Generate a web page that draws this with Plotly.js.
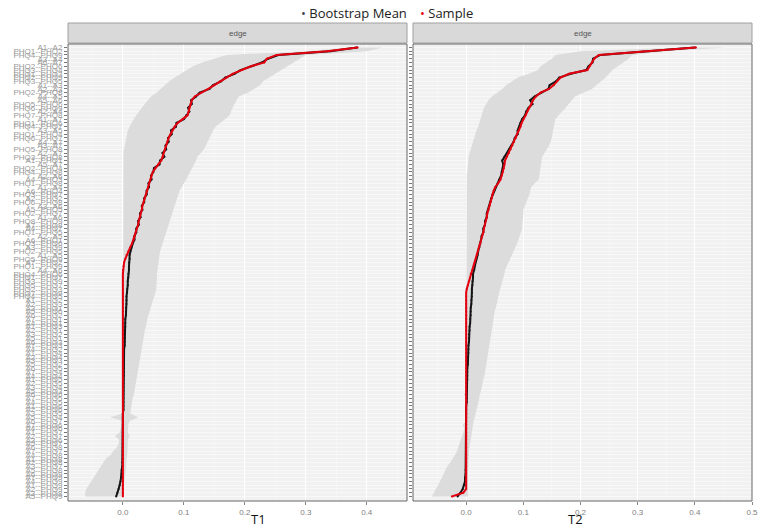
<!DOCTYPE html>
<html>
<head>
<meta charset="utf-8">
<script src="https://cdn.plot.ly/plotly-3.0.1.min.js"></script>
<style>
  body { margin: 0; background: #fff; }
  #plot { width: 764px; height: 528px; }
</style>
</head>
<body>
<div id="plot"></div>
<script>
// Edge labels, strongest first (top of the panels)
const edges = [
  "A1--A2","PHQ1--PHQ2","PHQ4--PHQ9","A3--A4","A6--A7","PHQ2--PHQ6","PHQ3--PHQ4","PHQ1--PHQ3","PHQ2--PHQ9","PHQ3--PHQ5",
  "A1--A3","A2--A3","PHQ2--PHQ8","A4--A5","A5--A6","PHQ5--PHQ6","PHQ6--PHQ9","A2--A4","PHQ7--PHQ8","A1--A7",
  "PHQ1--PHQ6","PHQ4--PHQ7","A3--A5","PHQ1--PHQ4","PHQ6--PHQ7","A4--A7","A3--A7","PHQ5--PHQ8","A2--A7","PHQ3--PHQ8",
  "A1--PHQ1","A5--A7","PHQ2--PHQ4","PHQ4--PHQ8","A2--A6","A4--PHQ3","PHQ1--PHQ8","A1--A4","A6--PHQ4","PHQ3--PHQ7",
  "A2--PHQ2","PHQ6--PHQ8","A3--A6","A5--PHQ5","PHQ2--PHQ7","A1--A6","PHQ8--PHQ9","A7--PHQ8","A4--PHQ7","PHQ1--PHQ5",
  "A2--A5","A6--PHQ1","PHQ3--PHQ6","A3--PHQ9","PHQ2--PHQ5","A1--A5","PHQ5--PHQ9","A7--PHQ2","PHQ1--PHQ9","A4--A6",
  "PHQ4--PHQ6","PHQ1--PHQ7","PHQ3--PHQ9","PHQ5--PHQ7","PHQ2--PHQ3","PHQ7--PHQ9","PHQ4--PHQ5","A1--PHQ2","A2--PHQ3","A3--PHQ1",
  "A5--PHQ6","A6--PHQ2","A7--PHQ1","A4--PHQ1","A1--PHQ3","A2--PHQ1","A3--PHQ2","A5--PHQ1","A6--PHQ3","A7--PHQ3",
  "A4--PHQ2","A1--PHQ4","A2--PHQ4","A3--PHQ3","A5--PHQ2","A6--PHQ5","A7--PHQ4","A4--PHQ4","A1--PHQ5","A2--PHQ5",
  "A3--PHQ4","A5--PHQ3","A6--PHQ6","A7--PHQ5","A4--PHQ5","A1--PHQ6","A2--PHQ6","A3--PHQ5","A5--PHQ4","A6--PHQ7",
  "A7--PHQ6","A4--PHQ6","A1--PHQ7","A2--PHQ7","A3--PHQ6","A5--PHQ7","A6--PHQ8","A7--PHQ7","A4--PHQ8","A1--PHQ8",
  "A2--PHQ8","A3--PHQ7","A5--PHQ8","A6--PHQ9","A7--PHQ9","A4--PHQ9","A1--PHQ9","A2--PHQ9","A3--PHQ8","A5--PHQ9"
];

// T1 panel
const t1Sample = [
  .385,.335,.252,.236,.232,.21,.195,.18,.17,.159,
  .15,.14,.128,.118,.113,.111,.109,.108,.106,.098,
  .09,.085,.081,.078,.075,.073,.071,.069,.067,.066,
  .063,.058,.053,.049,.047,.045,.043,.041,.04,.038,
  .036,.034,.032,.031,.029,.028,.026,.025,.023,.021,
  .02,.018,.015,.012,.009,.006,.004,.002,.001,0,
  0,0,0,0,0,0,0,0,0,0,
  0,0,0,0,0,0,0,0,0,0,
  0,0,0,0,0,0,0,0,0,0,
  0,0,0,0,0,0,0,0,0,0,
  0,0,0,0,0,0,0,0,0,0,
  0,0,0,0,0,0,0,0,0,0
];
const t1Mean = [
  .384,.34,.255,.238,.228,.212,.193,.183,.168,.161,
  .148,.142,.126,.12,.112,.113,.107,.109,.104,.1,
  .088,.087,.079,.08,.074,.075,.07,.071,.065,.068,
  .061,.06,.051,.05,.046,.047,.042,.043,.039,.039,
  .035,.035,.031,.032,.028,.029,.025,.026,.022,.022,
  .019,.019,.016,.014,.012,.011,.011,.01,.01,.01,
  .009,.009,.008,.008,.007,.007,.006,.006,.006,.005,
  .005,.005,.004,.004,.004,.003,.003,.003,.003,.003,
  .002,.002,.002,.002,.002,.002,.002,.002,.001,.001,
  .001,.001,.001,.001,.001,.001,.001,0,0,0,
  0,0,0,0,0,0,0,0,0,0,
  -.001,-.001,-.002,-.002,-.003,-.004,-.005,-.007,-.009,-.011
];
const t1Lower = [
  .37,.3,.17,.15,.13,.115,.105,.095,.085,.076,
  .07,.062,.055,.046,.041,.036,.031,.026,.022,.018,
  .014,.011,.008,.006,.005,.004,.003,.002,.001,0,
  0,0,0,0,0,0,0,0,0,0,
  0,0,0,0,0,0,0,0,0,0,
  0,0,0,0,0,0,0,0,0,0,
  0,0,0,0,0,0,0,0,0,0,
  0,0,0,0,0,0,0,0,0,0,
  0,0,0,0,0,0,0,0,0,0,
  0,0,0,0,0,0,0,0,-.021,0,
  -.002,-.003,-.005,-.013,-.006,-.007,-.01,-.016,-.02,-.028,
  -.033,-.037,-.041,-.045,-.049,-.052,-.056,-.06,-.062,-.062
];
const t1Upper = [
  .426,.40,.30,.29,.28,.27,.262,.25,.242,.23,
  .225,.215,.205,.19,.186,.183,.18,.177,.175,.168,
  .16,.152,.148,.145,.142,.139,.137,.133,.128,.122,
  .12,.117,.114,.111,.107,.104,.1,.096,.093,.091,
  .089,.087,.085,.082,.08,.078,.076,.074,.072,.07,
  .068,.066,.064,.062,.061,.06,.059,.058,.057,.057,
  .056,.056,.055,.055,.055,.053,.051,.049,.047,.045,
  .043,.042,.04,.039,.037,.036,.035,.034,.033,.032,
  .031,.03,.029,.028,.027,.026,.025,.024,.022,.021,
  .02,.019,.018,.016,.015,.014,.013,.012,.025,.011,
  .009,.008,.008,.011,.008,.008,.008,.008,.007,.006,
  .006,.005,.005,.004,.003,.003,.002,.001,0,0
];

// T2 panel
const t2Sample = [
  .402,.31,.232,.224,.22,.216,.212,.18,.165,.159,
  .153,.145,.13,.122,.117,.114,.11,.107,.104,.1,
  .097,.095,.092,.089,.087,.084,.081,.078,.075,.071,
  .068,.067,.066,.064,.062,.06,.056,.051,.048,.046,
  .045,.043,.041,.039,.037,.036,.034,.033,.031,.03,
  .028,.026,.025,.023,.021,.019,.017,.015,.013,.011,
  .008,.007,.005,.003,.001,0,0,0,0,0,
  0,0,0,0,0,0,0,0,0,0,
  0,0,0,0,0,0,0,0,0,0,
  0,0,0,0,0,0,0,0,0,0,
  0,0,0,0,0,0,0,0,0,0,
  0,0,0,0,0,0,0,0,-.005,-.025
];
const t2Mean = [
  .4,.32,.235,.222,.221,.214,.21,.183,.163,.157,
  .146,.144,.131,.12,.112,.116,.109,.105,.103,.098,
  .095,.093,.09,.09,.085,.083,.079,.075,.072,.067,
  .063,.065,.064,.062,.061,.058,.055,.052,.049,.046,
  .044,.042,.04,.039,.036,.036,.033,.033,.03,.03,
  .027,.026,.024,.023,.021,.02,.018,.016,.015,.014,
  .012,.012,.011,.011,.01,.01,.01,.009,.009,.008,
  .008,.008,.007,.007,.006,.006,.005,.005,.005,.004,
  .004,.004,.003,.003,.003,.002,.002,.002,.002,.001,
  .001,.001,.001,.001,.001,0,0,0,0,0,
  0,0,0,0,0,0,0,0,0,0,
  0,0,-.001,-.001,-.002,-.002,-.004,-.006,-.01,-.015
];
const t2Lower = [
  .38,.2,.156,.15,.14,.13,.126,.11,.09,.08,
  .07,.063,.055,.045,.039,.035,.031,.029,.027,.025,
  .023,.021,.018,.016,.013,.011,.009,.007,.006,.004,
  .004,.003,.003,.002,.001,.001,0,0,0,0,
  0,0,0,0,0,0,0,0,0,0,
  0,0,0,0,0,0,0,0,0,0,
  0,0,0,0,0,0,0,0,0,0,
  0,0,0,0,0,0,0,0,0,0,
  0,0,0,0,0,0,0,0,0,0,
  0,0,-.004,0,0,0,0,0,0,0,
  -.006,-.003,-.005,-.008,-.01,-.012,-.014,-.016,-.019,-.024,
  -.028,-.033,-.037,-.04,-.043,-.046,-.049,-.053,-.057,-.06
];
const t2Upper = [
  .455,.35,.29,.284,.275,.265,.256,.25,.244,.236,
  .228,.22,.205,.19,.185,.18,.174,.168,.162,.156,
  .155,.153,.152,.151,.15,.148,.145,.141,.137,.133,
  .132,.131,.13,.129,.128,.127,.12,.114,.112,.111,
  .108,.105,.102,.1,.1,.099,.099,.098,.098,.096,
  .094,.091,.089,.086,.083,.08,.077,.074,.071,.068,
  .067,.065,.063,.062,.06,.058,.056,.055,.053,.051,
  .05,.049,.048,.047,.046,.045,.044,.043,.042,.041,
  .039,.038,.037,.036,.035,.034,.033,.032,.03,.029,
  .027,.026,.024,.023,.021,.02,.018,.017,.015,.013,
  .012,.011,.009,.008,.007,.006,.006,.005,.005,.004,
  .004,.004,.003,.003,.003,.003,.003,.003,.003,.003
];

const idx = edges.map((_, i) => i);
const revIdx = idx.slice().reverse();

// Build the traces for one panel
function panelTraces(lower, upper, mean, sample, xa, ya) {
  return [
    {
      x: upper.concat(lower.slice().reverse()),
      y: idx.concat(revIdx),
      xaxis: xa, yaxis: ya,
      type: 'scatter', mode: 'lines',
      fill: 'toself', fillcolor: '#dcdcdc',
      line: { width: 0 }, hoverinfo: 'skip', showlegend: false
    },
    {
      x: mean, y: idx, xaxis: xa, yaxis: ya,
      type: 'scatter', mode: 'lines+markers',
      line: { color: '#151515', width: 2 },
      marker: { color: '#151515', size: 2 },
      showlegend: false
    },
    {
      x: sample, y: idx, xaxis: xa, yaxis: ya,
      type: 'scatter', mode: 'lines+markers',
      line: { color: '#e3000f', width: 2 },
      marker: { color: '#e3000f', size: 2 },
      showlegend: false
    }
  ];
}

const data = panelTraces(t1Lower, t1Upper, t1Mean, t1Sample, 'x', 'y')
  .concat(panelTraces(t2Lower, t2Upper, t2Mean, t2Sample, 'x2', 'y2'));

const W = 764, H = 528;
const px = v => v / W;
const py = v => 1 - v / H;

const xCommon = {
  showgrid: true, gridcolor: '#ffffff', gridwidth: 1,
  minor: { showgrid: true, gridcolor: '#f8f8f8', gridwidth: 0.5, dtick: 0.05 },
  dtick: 0.1, tick0: 0, tickformat: '.1f',
  ticks: 'outside', ticklen: 3, tickcolor: '#888',
  tickfont: { family: 'Liberation Sans', size: 8, color: '#808080' },
  zeroline: false, showline: false, fixedrange: true
};
const yCommon = {
  tickmode: 'array', tickvals: idx, ticktext: edges,
  range: [120.2, -0.9],
  showgrid: true, gridcolor: '#ffffff', gridwidth: 0.5,
  ticks: 'outside', ticklen: 3, tickcolor: '#777', tickwidth: 1,
  tickfont: { family: 'Liberation Sans', size: 8, color: '#999999' },
  zeroline: false, showline: false, fixedrange: true
};

const panels = [[68, 407], [413, 752]];
const shapes = [];
const annotations = [];
panels.forEach(p => {
  // strip
  shapes.push({ type: 'rect', xref: 'paper', yref: 'paper',
    x0: px(p[0]), x1: px(p[1]), y0: py(43), y1: py(23),
    fillcolor: '#d9d9d9', line: { color: '#a0a0a0', width: 1 } });
  annotations.push({ xref: 'paper', yref: 'paper', x: px((p[0] + p[1]) / 2), y: py(33),
    xanchor: 'center', yanchor: 'middle',
    text: 'edge', showarrow: false,
    font: { family: 'Liberation Sans', size: 8, color: '#555' } });
  // panel border
  shapes.push({ type: 'rect', xref: 'paper', yref: 'paper',
    x0: px(p[0]), x1: px(p[1]), y0: py(501), y1: py(44),
    fillcolor: 'rgba(0,0,0,0)', line: { color: '#666', width: 1 }, layer: 'above' });
});

annotations.push(
  { xref: 'paper', yref: 'paper', x: px(258), y: py(519), xanchor: 'center', yanchor: 'middle',
    text: 'T1', showarrow: false,
    font: { family: 'Open Sans', size: 13, color: '#111' } },
  { xref: 'paper', yref: 'paper', x: px(575), y: py(519), xanchor: 'center', yanchor: 'middle',
    text: 'T2', showarrow: false,
    font: { family: 'Open Sans', size: 13, color: '#111' } },
  { xref: 'paper', yref: 'paper', x: px(299), y: py(13), xanchor: 'left', yanchor: 'middle',
    showarrow: false,
    text: '<span style="color:#444">•</span> Bootstrap Mean',
    font: { family: 'Open Sans', size: 13, color: '#222' } },
  { xref: 'paper', yref: 'paper', x: px(418), y: py(13), xanchor: 'left', yanchor: 'middle',
    showarrow: false,
    text: '<span style="color:#e3000f">•</span> Sample',
    font: { family: 'Open Sans', size: 13, color: '#222' } }
);

const layout = {
  width: W, height: H,
  margin: { l: 0, r: 0, t: 0, b: 0 },
  paper_bgcolor: '#ffffff',
  plot_bgcolor: '#f1f1f1',
  showlegend: false,
  xaxis: Object.assign({}, xCommon, { domain: [px(68), px(407)], range: [-0.09, 0.466], anchor: 'y' }),
  xaxis2: Object.assign({}, xCommon, { domain: [px(413), px(752)], range: [-0.093, 0.5], anchor: 'y2' }),
  yaxis: Object.assign({}, yCommon, { domain: [py(501), py(44)], anchor: 'x' }),
  yaxis2: Object.assign({}, yCommon, { domain: [py(501), py(44)], anchor: 'x2', showticklabels: false }),
  shapes: shapes,
  annotations: annotations
};

Plotly.newPlot('plot', data, layout, { displayModeBar: false, staticPlot: true });
</script>
</body>
</html>
